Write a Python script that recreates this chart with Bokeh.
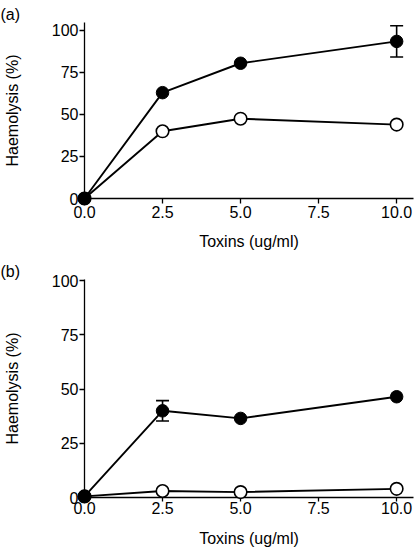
from bokeh.plotting import figure
from bokeh.layouts import column
from bokeh.models import (Range1d, FixedTicker, NumeralTickFormatter,
                          Whisker, TeeHead, ColumnDataSource)
from bokeh.embed import file_html
from bokeh.resources import INLINE

# ---- data ----
toxins = [0, 2.5, 5.0, 10.0]
x_ticks = [0, 2.5, 5.0, 7.5, 10.0]
y_ticks = [0, 25, 50, 75, 100]

a_filled = [0, 63, 80.5, 93.5]
a_open = [0, 40, 47.5, 44]
a_err_x = [10.0]
a_err_mean = [93.5]
a_err_sd = [9.3]

b_filled = [0.5, 40, 36.5, 46.5]
b_open = [0.5, 3, 2.5, 4]
b_err_x = [2.5]
b_err_mean = [40]
b_err_sd = [4.7]

FONT = "Liberation Sans"
FS = "16px"


def make_panel(height, y_end, tag, top, bottom, xstand, xtick_out, xlab_stand,
               filled, opened, ex, em, es):
    p = figure(width=415, height=height, output_backend="svg",
               toolbar_location=None,
               x_range=Range1d(0, 10.54), y_range=Range1d(0, y_end),
               min_border_left=80, min_border_right=2, min_border_top=top,
               min_border_bottom=bottom)
    p.outline_line_color = None
    p.xgrid.visible = False
    p.ygrid.visible = False

    p.title.text = tag
    p.title.align = "left"
    p.title.offset = -84
    p.title.standoff = 0
    p.title.text_font = FONT
    p.title.text_font_size = FS
    p.title.text_font_style = "normal"
    p.title.text_color = "black"

    xa = p.xaxis[0]
    ya = p.yaxis[0]
    xa.ticker = FixedTicker(ticks=x_ticks)
    xa.formatter = NumeralTickFormatter(format="0.0")
    ya.ticker = FixedTicker(ticks=y_ticks)
    xa.axis_label = "Toxins (ug/ml)"
    ya.axis_label = "Haemolysis (%)"
    for ax in (xa, ya):
        ax.axis_line_width = 1.3
        ax.axis_line_color = "black"
        ax.major_tick_line_color = "black"
        ax.major_tick_line_width = 1.3
        ax.major_tick_in = 0
        ax.minor_tick_line_color = None
        ax.major_label_text_font = FONT
        ax.major_label_text_font_size = FS
        ax.major_label_text_color = "black"
        ax.axis_label_text_font = FONT
        ax.axis_label_text_font_size = FS
        ax.axis_label_text_font_style = "normal"
        ax.axis_label_text_color = "black"
    xa.major_tick_out = xtick_out
    xa.major_label_standoff = xstand
    xa.axis_label_standoff = xlab_stand
    ya.major_tick_out = 5
    ya.major_label_standoff = 1
    ya.axis_label_standoff = 28

    # lines
    p.line(toxins, filled, line_color="black", line_width=1.9, level="overlay")
    p.line(toxins, opened, line_color="black", line_width=1.9, level="overlay")

    # error bars
    src = ColumnDataSource(data=dict(
        x=ex, upper=[m + s for m, s in zip(em, es)],
        lower=[m - s for m, s in zip(em, es)]))
    w = Whisker(base="x", upper="upper", lower="lower", source=src,
                dimension="height", line_width=1.6, line_color="black",
                upper_head=TeeHead(size=13, line_width=1.6, line_color="black"),
                lower_head=TeeHead(size=13, line_width=1.6, line_color="black"))
    w.level = "overlay"
    p.add_layout(w)

    p.scatter(toxins, opened, size=12.5, fill_color="white",
              line_color="black", line_width=1.6, level="overlay")
    p.scatter(toxins, filled, size=12.5, fill_color="black",
              line_color="black", line_width=1, level="overlay")
    return p


pa = make_panel(260, 104.76, "(a)", 22, 62, 2, 5, 12,
                a_filled, a_open, a_err_x, a_err_mean, a_err_sd)
pb = make_panel(293, 100.6, "(b)", 18, 56, 0, 4, 13,
                b_filled, b_open, b_err_x, b_err_mean, b_err_sd)

layout = column(pa, pb, spacing=0)

open("out.html", "w").write(file_html(layout, INLINE))
